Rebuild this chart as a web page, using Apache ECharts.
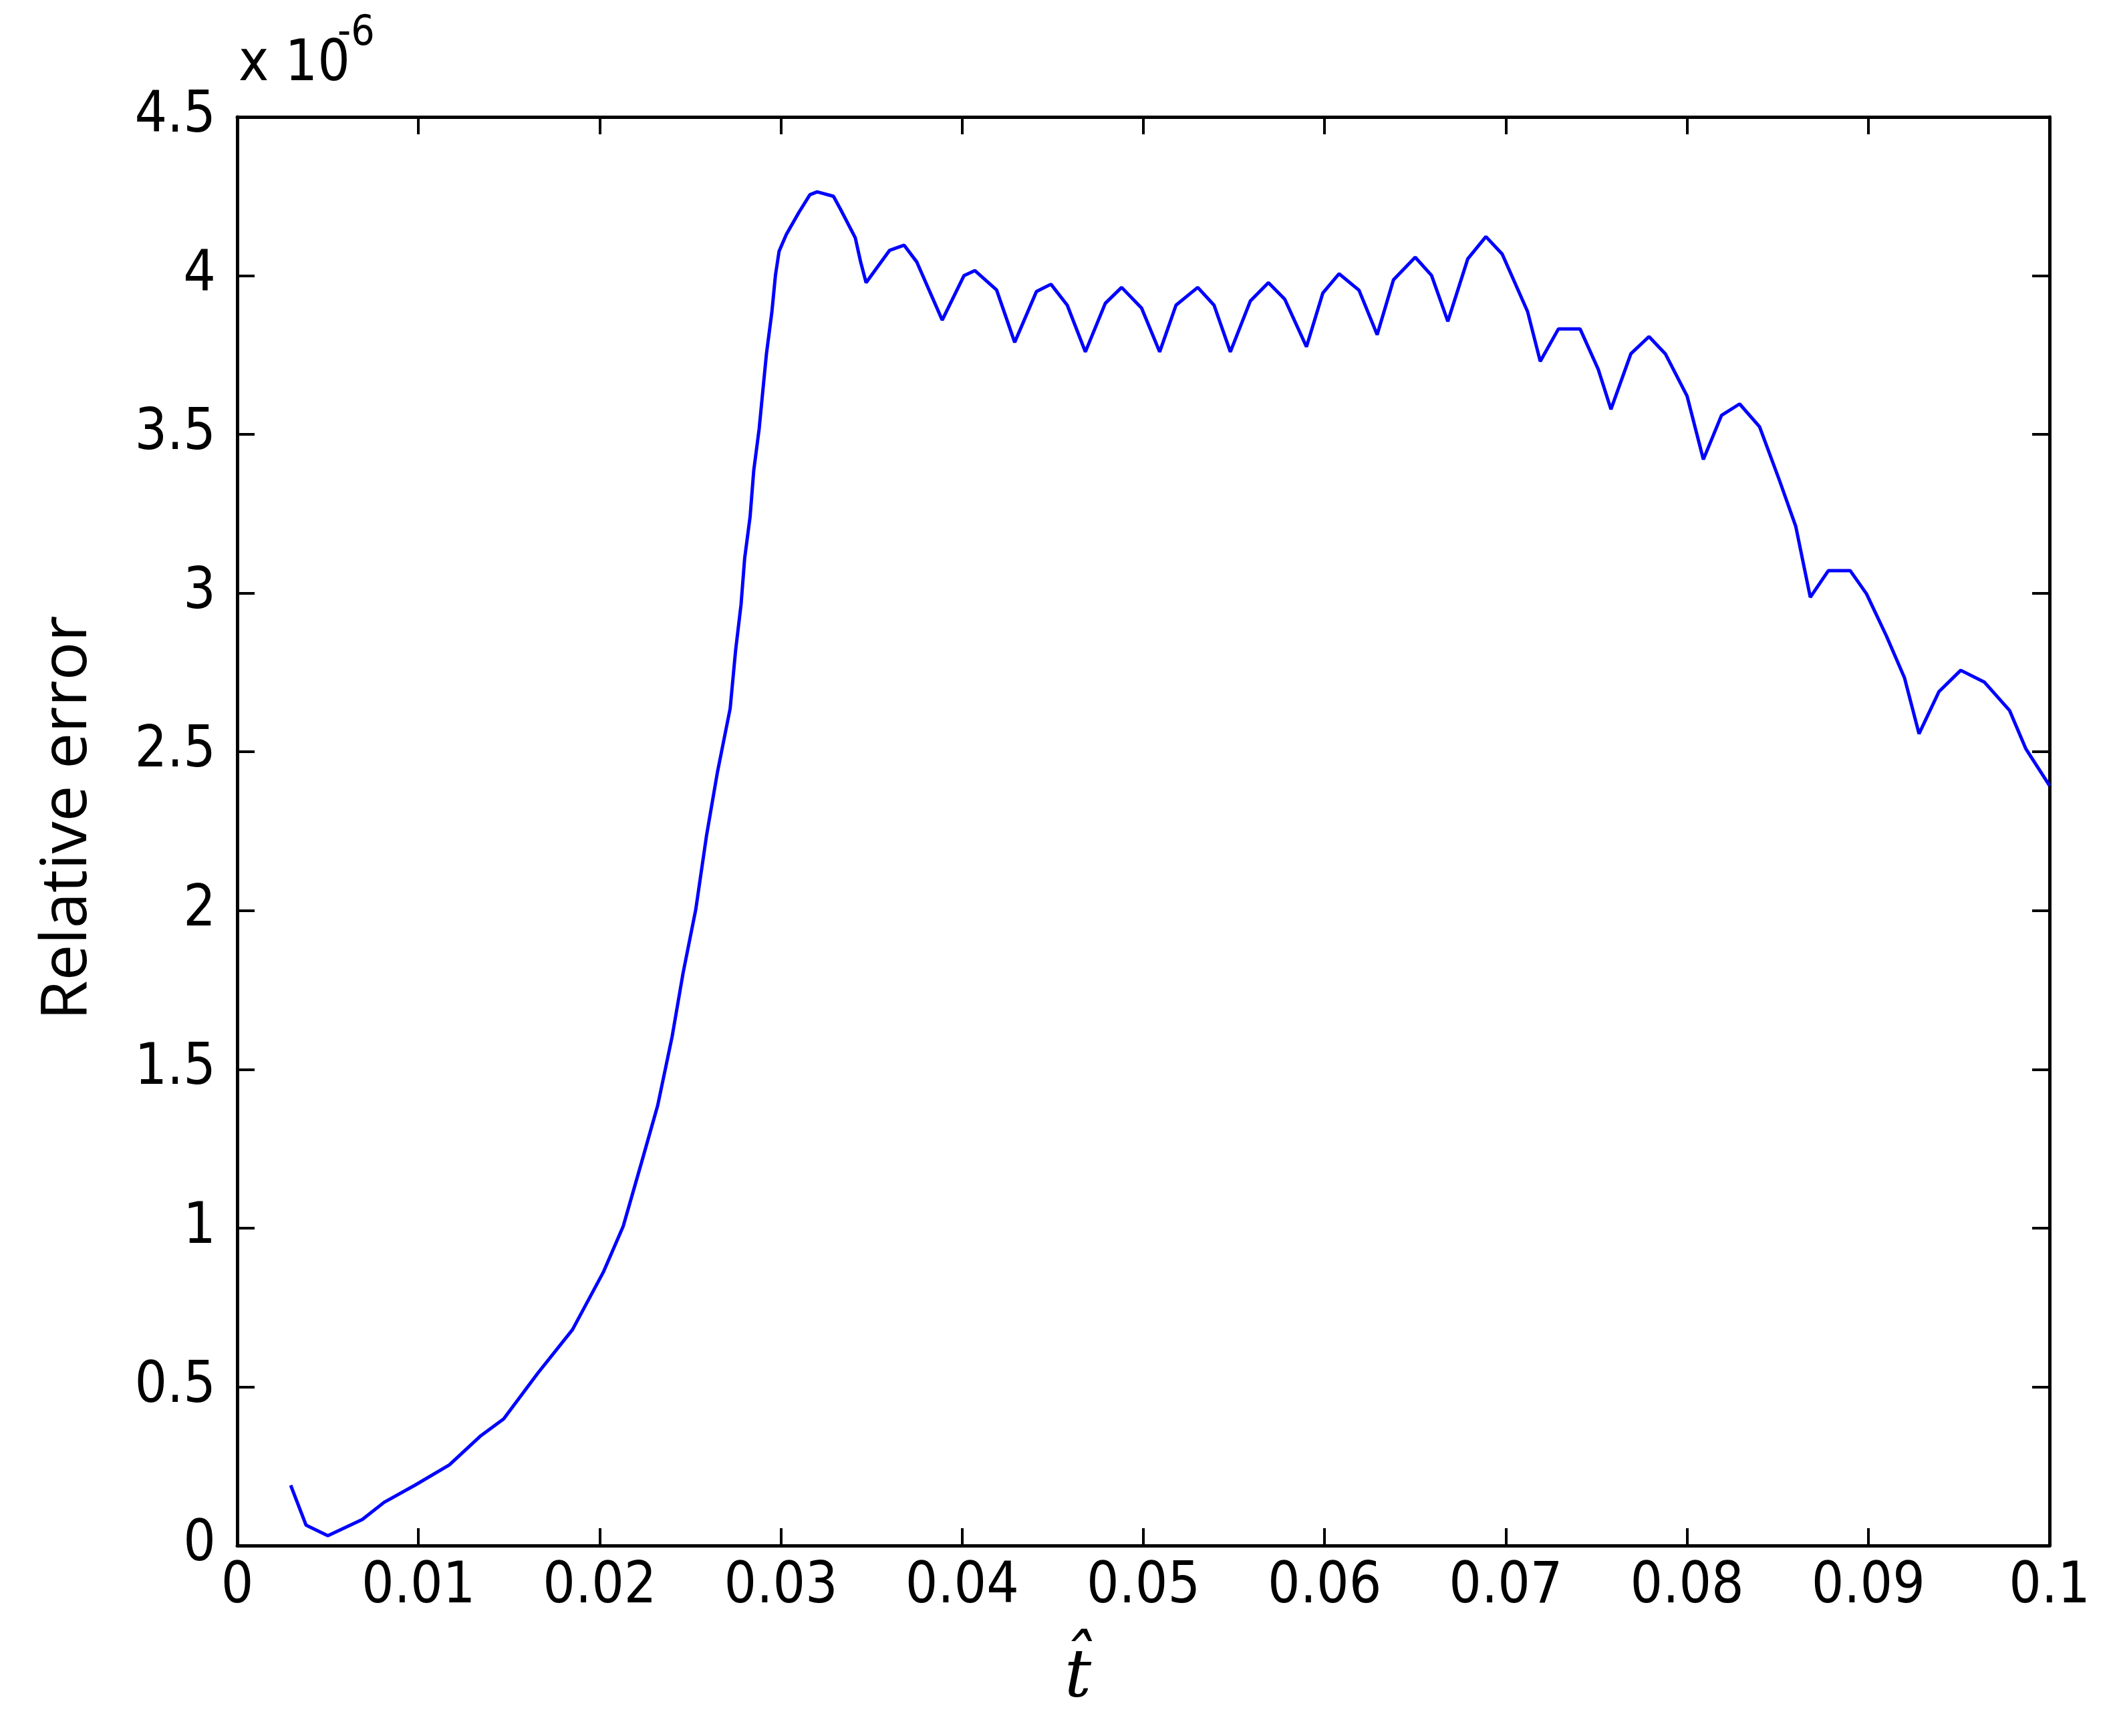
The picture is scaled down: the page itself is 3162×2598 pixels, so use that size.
<!DOCTYPE html>
<html>
<head>
<meta charset="utf-8">
<script src="https://cdn.jsdelivr.net/npm/echarts@6/dist/echarts.min.js"></script>
<style>
html,body{margin:0;padding:0;background:#fff;}
#chart{width:3162px;height:2598px;}
</style>
</head>
<body>
<div id="chart"></div>
<script>
// t-hat values
var tValues = [
  0.00295, 0.0038, 0.0050, 0.0069, 0.0081, 0.0098, 0.0117, 0.0134, 0.0147, 0.0166,
  0.0185, 0.0202, 0.0213, 0.0223, 0.0232, 0.0240, 0.0246, 0.0253, 0.0259, 0.0265,
  0.0272, 0.0275, 0.0278, 0.0280, 0.0283, 0.0285, 0.0288, 0.0290, 0.0292, 0.0295,
  0.0297, 0.0299, 0.0303, 0.0310, 0.0316, 0.0320, 0.0329, 0.0333, 0.0341, 0.0344,
  0.0347, 0.0360, 0.0368, 0.0375, 0.0389, 0.0401, 0.0407, 0.0419, 0.0429, 0.0441,
  0.0449, 0.0458, 0.0468, 0.0479, 0.0488, 0.0499, 0.0509, 0.0518, 0.0524, 0.0530,
  0.0539, 0.0548, 0.0559, 0.0569, 0.0578, 0.0590, 0.0599, 0.0608, 0.0619, 0.0629,
  0.0638, 0.0650, 0.0659, 0.0668, 0.0679, 0.0689, 0.0698, 0.0712, 0.0719, 0.0729,
  0.0741, 0.0751, 0.0758, 0.0769, 0.0779, 0.0788, 0.0800, 0.0809, 0.0819, 0.0829,
  0.0840, 0.0851, 0.0860, 0.0868, 0.0878, 0.0890, 0.0899, 0.0910, 0.0920, 0.0928,
  0.0939, 0.0951, 0.0964, 0.0978, 0.0987, 0.1000
];
// relative error, in units of 1e-6
var errValues = [
  0.19, 0.064, 0.031, 0.082, 0.136, 0.19, 0.254, 0.344, 0.399, 0.544,
  0.68, 0.861, 1.006, 1.205, 1.386, 1.604, 1.803, 2.003, 2.238, 2.437,
  2.637, 2.82, 2.964, 3.11, 3.241, 3.386, 3.518, 3.636, 3.753, 3.885,
  4.002, 4.077, 4.13, 4.20, 4.255, 4.264, 4.25, 4.208, 4.12, 4.043,
  3.978, 4.08, 4.096, 4.043, 3.86, 4.0, 4.016, 3.955, 3.79, 3.95,
  3.973, 3.907, 3.76, 3.913, 3.963, 3.898, 3.76, 3.907, 3.935, 3.963,
  3.907, 3.76, 3.92, 3.978, 3.926, 3.776, 3.945, 4.006, 3.954, 3.814,
  3.987, 4.058, 4.001, 3.856, 4.053, 4.123, 4.068, 3.887, 3.73, 3.832,
  3.832, 3.705, 3.579, 3.754, 3.808, 3.754, 3.621, 3.421, 3.56, 3.596,
  3.524, 3.355, 3.21, 2.987, 3.071, 3.071, 2.998, 2.865, 2.733, 2.557,
  2.69, 2.757, 2.72, 2.63, 2.509, 2.394
];
var xTickLabels = ['0','0.01','0.02','0.03','0.04','0.05','0.06','0.07','0.08','0.09','0.1'];
var yTickLabels = ['0','0.5','1','1.5','2','2.5','3','3.5','4','4.5'];

var seriesData = tValues.map(function (t, i) { return [t, errValues[i]]; });

var tickFont = "'Liberation Sans Narrow', 'DejaVu Sans Condensed', sans-serif";
var axisLineStyle = { color: '#000', width: 5 };
var tickStyle = { show: true, inside: true, length: 26, lineStyle: { color: '#000', width: 4 } };

var chart = echarts.init(document.getElementById('chart'));
chart.setOption({
  backgroundColor: '#fff',
  animation: false,
  grid: { left: 355, right: 95, top: 175, bottom: 285, containLabel: false },
  xAxis: [{
    type: 'value', min: 0, max: 0.1, interval: 0.01, position: 'bottom',
    name: 't\u0302', nameLocation: 'middle', nameGap: 150,
    nameTextStyle: { fontFamily: "'DejaVu Serif', serif", fontStyle: 'italic', fontSize: 100, color: '#000', padding: [0, 196, 0, 0] },
    axisLine: { show: true, onZero: false, lineStyle: axisLineStyle },
    axisTick: tickStyle,
    splitLine: { show: false },
    axisLabel: {
      margin: 20, fontFamily: tickFont, fontSize: 85, color: '#000',
      formatter: function (v) { return xTickLabels[Math.round(v / 0.01)]; }
    }
  }, {
    type: 'value', min: 0, max: 0.1, interval: 0.01, position: 'top',
    axisLine: { show: true, onZero: false, lineStyle: axisLineStyle },
    axisTick: tickStyle,
    splitLine: { show: false },
    axisLabel: { show: false }
  }],
  yAxis: [{
    type: 'value', min: 0, max: 4.5, interval: 0.5, position: 'left',
    name: 'Relative error', nameLocation: 'middle', nameGap: 205, nameRotate: 90,
    nameTextStyle: { fontFamily: "'Open Sans', sans-serif", fontSize: 96, color: '#000', padding: [0, 0, 0, 40] },
    axisLine: { show: true, onZero: false, lineStyle: axisLineStyle },
    axisTick: tickStyle,
    splitLine: { show: false },
    axisLabel: {
      margin: 32, fontFamily: tickFont, fontSize: 85, color: '#000',
      formatter: function (v) { return yTickLabels[Math.round(v / 0.5)]; }
    }
  }, {
    type: 'value', min: 0, max: 4.5, interval: 0.5, position: 'right',
    axisLine: { show: true, onZero: false, lineStyle: axisLineStyle },
    axisTick: tickStyle,
    splitLine: { show: false },
    axisLabel: { show: false }
  }],
  graphic: [
    { type: 'text', left: 357, top: 55, style: { text: 'x 10', font: "85px 'Liberation Sans Narrow', 'DejaVu Sans Condensed', sans-serif", fill: '#000' } },
    { type: 'text', left: 505, top: 20, style: { text: '-6', font: "62px 'Liberation Sans Narrow', 'DejaVu Sans Condensed', sans-serif", fill: '#000' } }
  ],
  series: [{
    type: 'line',
    xAxisIndex: 0, yAxisIndex: 0,
    data: seriesData,
    showSymbol: false,
    lineStyle: { color: '#0000ff', width: 5 },
    itemStyle: { color: '#0000ff' }
  }]
});
</script>
</body>
</html>
